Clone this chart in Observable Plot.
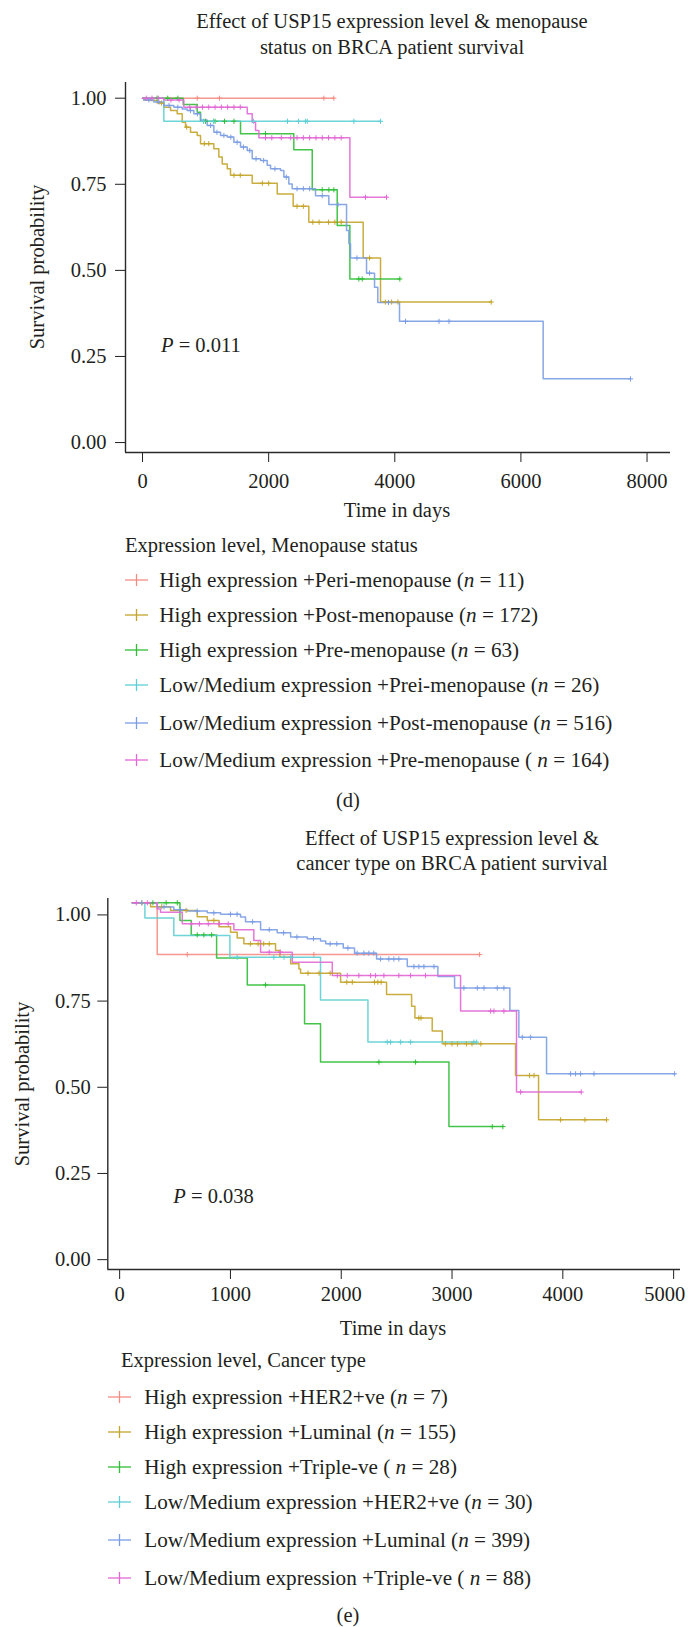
<!DOCTYPE html>
<html>
<head>
<meta charset="utf-8">
<script src="https://cdn.jsdelivr.net/npm/d3@7"></script>
<script src="https://cdn.jsdelivr.net/npm/@observablehq/plot@0.6"></script>
<style>
  html, body { margin: 0; padding: 0; background: #fff; overflow: hidden; }
  #root { position: relative; width: 688px; height: 1627px; background: #fff; color: #231f20;
          font-family: 'Liberation Serif', 'Times New Roman', serif; }
  #root div.t { position: absolute; white-space: nowrap; font-size: 20.5px; line-height: 26px; }
  #root div.t.leg { font-size: 21.2px; }
</style>
</head>
<body>
<div id="root"></div>
<script>
// ---------------- Panel (d): menopause status ----------------
const dNames = [
  "High expression +Peri-menopause (<i>n</i> = 11)",
  "High expression +Post-menopause (<i>n</i> = 172)",
  "High expression +Pre-menopause (<i>n</i> = 63)",
  "Low/Medium expression +Prei-menopause (<i>n</i> = 26)",
  "Low/Medium expression +Post-menopause (<i>n</i> = 516)",
  "Low/Medium expression +Pre-menopause ( <i>n</i> = 164)"
];
const dHighPeriT = [0, 3033];
const dHighPeriS = [1, 1];
const dHighPeriC = [867, 1221, 2875, 3033];

const dHighPostT = [0, 21, 127, 233, 338, 444, 550, 629, 682, 761, 867, 920, 1131, 1210, 1264, 1343, 1395, 1739, 2136, 2389, 2637, 3499, 3774, 5529];
const dHighPostS = [1, 0.995, 0.993, 0.986, 0.974, 0.964, 0.955, 0.930, 0.916, 0.901, 0.892, 0.868, 0.853, 0.829, 0.809, 0.795, 0.776, 0.753, 0.722, 0.686, 0.640, 0.536, 0.408, 0.408];
const dHighPostC = [300, 700, 980, 1050, 1450, 1550, 1900, 2000, 2450, 2550, 2700, 2800, 2950, 3050, 3150, 3600, 3850, 3950, 4050, 5529];

const dHighPreT = [0, 645, 867, 920, 1554, 2399, 2691, 3087, 3288, 4080];
const dHighPreS = [1, 0.982, 0.959, 0.933, 0.897, 0.850, 0.734, 0.630, 0.475, 0.475];
const dHighPreC = [230, 400, 560, 1000, 1150, 1300, 1450, 1950, 2849, 2955, 3034, 3430, 3484, 4080];

const dLowPeriT = [0, 338, 3774];
const dLowPeriS = [1, 0.933, 0.933];
const dLowPeriC = [967, 1126, 1760, 2299, 2474, 2585, 2612, 3351, 3774];

const dLowPostT = [0, 21, 180, 338, 497, 629, 708, 814, 920, 1025, 1131, 1237, 1343, 1448, 1554, 1660, 1739, 1871, 1977, 2030, 2188, 2241, 2320, 2373, 2743, 2954, 3235, 3272, 3298, 3552, 3679, 3731, 4075, 6353, 7738];
const dLowPostS = [1, 0.995, 0.989, 0.979, 0.974, 0.969, 0.964, 0.955, 0.937, 0.921, 0.901, 0.892, 0.887, 0.872, 0.858, 0.848, 0.824, 0.819, 0.805, 0.795, 0.790, 0.771, 0.751, 0.737, 0.717, 0.691, 0.616, 0.577, 0.536, 0.492, 0.451, 0.407, 0.352, 0.185, 0.185];
const dLowPostC = [100, 260, 420, 560, 760, 870, 1080, 1180, 1290, 1400, 1500, 1600, 1700, 1800, 1920, 2100, 2280, 2450, 2550, 2650, 2850, 3100, 3400, 3600, 3900, 4170, 4701, 4860, 7738];

const dLowPreT = [0, 338, 655, 1660, 1739, 1792, 1845, 3288, 3869];
const dLowPreS = [1, 0.995, 0.974, 0.955, 0.930, 0.906, 0.885, 0.7125, 0.7125];
const dLowPreC = [60, 150, 250, 450, 580, 750, 850, 950, 1050, 1150, 1250, 1350, 1450, 1550, 1950, 2050, 2200, 2350, 2450, 2550, 2650, 2750, 2850, 2950, 3050, 3150, 3536, 3869];

// ---------------- Panel (e): cancer type ----------------
const eNames = [
  "High expression +HER2+ve (<i>n</i> = 7)",
  "High expression +Luminal (<i>n</i> = 155)",
  "High expression +Triple-ve ( <i>n</i> = 28)",
  "Low/Medium expression +HER2+ve (<i>n</i> = 30)",
  "Low/Medium expression +Luminal (<i>n</i> = 399)",
  "Low/Medium expression +Triple-ve ( <i>n</i> = 88)"
];
const eHighHerT = [114, 339, 3249];
const eHighHerS = [1.035, 0.885, 0.885];
const eHighHerC = [610, 1753, 3249];

const eHighLumT = [114, 279, 459, 700, 791, 896, 1001, 1061, 1121, 1407, 1446, 1543, 1618, 1633, 1994, 2409, 2635, 2665, 2821, 2912, 3573, 3781, 4395];
const eHighLumS = [1.035, 1.024, 1.013, 0.995, 0.984, 0.966, 0.950, 0.933, 0.916, 0.897, 0.877, 0.858, 0.843, 0.831, 0.805, 0.769, 0.735, 0.701, 0.663, 0.626, 0.534, 0.4055, 0.4055];
const eHighLumC = [200, 380, 600, 850, 1180, 1250, 1300, 1350, 1700, 1800, 1900, 2050, 2100, 2300, 2330, 2360, 2700, 2720, 2940, 3000, 3050, 3130, 3180, 3260, 3700, 3740, 3980, 4200, 4395];

const eHighTriT = [114, 544, 646, 875, 1152, 1669, 1813, 2972, 3459];
const eHighTriS = [1.035, 0.984, 0.942, 0.875, 0.797, 0.684, 0.573, 0.386, 0.386];
const eHighTriC = [300, 420, 520, 700, 760, 830, 1317, 2340, 2671, 3363, 3459];

const eLowHerT = [114, 228, 489, 995, 1813, 2241, 3222];
const eLowHerS = [1.035, 0.991, 0.940, 0.877, 0.7535, 0.631, 0.631];
const eLowHerC = [1061, 1392, 1483, 1543, 2415, 2445, 2536, 2626, 3197, 3222];

const eLowLumT = [114, 339, 489, 610, 791, 911, 1091, 1136, 1272, 1422, 1543, 1693, 1813, 1860, 2018, 2120, 2319, 2596, 2872, 3023, 3522, 3603, 3853, 5009];
const eLowLumS = [1.035, 1.023, 1.015, 1.011, 1.006, 1.002, 0.994, 0.980, 0.957, 0.948, 0.936, 0.931, 0.924, 0.916, 0.904, 0.889, 0.872, 0.850, 0.821, 0.788, 0.723, 0.645, 0.539, 0.539];
const eLowLumC = [200, 400, 550, 700, 850, 1000, 1060, 1200, 1350, 1480, 1600, 1750, 1900, 1960, 2060, 2143, 2204, 2249, 2294, 2355, 2430, 2475, 2520, 2656, 2701, 2746, 2837, 3107, 3228, 3288, 3408, 3468, 3634, 3709, 4070, 4115, 4160, 4281, 5009];

const eLowTriT = [114, 339, 369, 565, 1031, 1211, 1272, 1558, 1919, 3077, 3582, 4166];
const eLowTriS = [1.035, 1.017, 1.008, 0.974, 0.957, 0.926, 0.892, 0.863, 0.824, 0.721, 0.486, 0.486];
const eLowTriC = [150, 250, 650, 720, 800, 900, 980, 1350, 1450, 1964, 2054, 2159, 2265, 2310, 2385, 2520, 2626, 2761, 3348, 3378, 3468, 3619, 4166];

// ticks
const dXTicks = [0, 2000, 4000, 6000, 8000];
const eXTicks = [0, 1000, 2000, 3000, 4000, 5000];
const yTicks = [0, 0.25, 0.5, 0.75, 1];

// styles
const palette = ["#F58C84", "#C4A42A", "#2FBE35", "#5DCFD4", "#7B9DE4", "#E268D5"];

// ---------------- helpers ----------------
function stepAt(t, T, S) {
  let v = S[0];
  for (let i = 0; i < T.length; i++) if (T[i] <= t) v = S[i];
  return v;
}
function buildTables(names, series) {
  const lines = [], cens = [];
  series.forEach(([T, S, C], k) => {
    T.forEach((t, i) => lines.push({series: names[k], t, s: S[i]}));
    C.forEach(t => cens.push({series: names[k], t, s: stepAt(t, T, S)}));
  });
  return {lines, cens};
}
const root = document.getElementById("root");
function txt(html, x, y, anchor, extra, cls) {
  const el = document.createElement("div");
  el.className = "t" + (cls ? " " + cls : "");
  el.innerHTML = html;
  const tx = anchor === "start" ? "0" : anchor === "end" ? "-100%" : "-50%";
  el.style.left = x + "px";
  el.style.top = y + "px";
  el.style.transform = `translate(${tx},-50%)` + (extra || "");
  root.append(el);
  return el;
}
function cross(color, x, y) {
  const ns = "http://www.w3.org/2000/svg";
  const s = document.createElementNS(ns, "svg");
  s.setAttribute("width", 24); s.setAttribute("height", 14);
  s.style.cssText = `position:absolute;left:${x}px;top:${y - 7}px;overflow:visible`;
  s.innerHTML = `<line x1="0" x2="23" y1="7" y2="7" stroke="${color}" stroke-width="1.3"/>` +
                `<line x1="11.5" x2="11.5" y1="1" y2="13" stroke="${color}" stroke-width="1.3"/>`;
  root.append(s);
}
function kmPlot(cfg) {
  const {lines, cens} = buildTables(cfg.names, cfg.series);
  const svg = Plot.plot({
    width: 688, height: cfg.height,
    marginLeft: cfg.ml, marginRight: cfg.mr, marginTop: cfg.mt, marginBottom: cfg.mb,
    style: {fontFamily: "'Liberation Serif', 'Times New Roman', serif", fontSize: "20.5px", color: "#231f20", background: "transparent", overflow: "visible"},
    x: {domain: cfg.xDomain, ticks: cfg.xTicks, tickFormat: d3.format("d"), tickSize: 10, tickPadding: cfg.xPad, label: null},
    y: {domain: cfg.yDomain, ticks: yTicks, tickFormat: d3.format(".2f"), tickSize: 10, tickPadding: cfg.yPad, label: null},
    color: {domain: cfg.names, range: palette},
    marks: [
      Plot.ruleX([cfg.xDomain[0]], {stroke: "#2a2a2a", strokeWidth: 1.4}),
      Plot.ruleY([cfg.yDomain[0]], {stroke: "#2a2a2a", strokeWidth: 1.4}),
      Plot.line(lines, {x: "t", y: "s", z: "series", stroke: "series", curve: "step-after", strokeWidth: 1.5, strokeOpacity: 0.9}),
      Plot.dot(cens, {x: "t", y: "s", stroke: "series", symbol: "plus", r: 1.8, strokeWidth: 1})
    ]
  });
  svg.style.position = "absolute";
  svg.style.left = "0px";
  svg.style.top = cfg.top + "px";
  root.append(svg);
  return svg;
}

// ---------------- (d) ----------------
txt("Effect of USP15 expression level &amp; menopause", 392, 21);
txt("status on BRCA patient survival", 392, 47);
kmPlot({
  names: dNames,
  series: [[dHighPeriT, dHighPeriS, dHighPeriC], [dHighPostT, dHighPostS, dHighPostC], [dHighPreT, dHighPreS, dHighPreC],
           [dLowPeriT, dLowPeriS, dLowPeriC], [dLowPostT, dLowPostS, dLowPostC], [dLowPreT, dLowPreS, dLowPreC]],
  top: 60, height: 470, ml: 125, mr: 18, mt: 22, mb: 78,
  xDomain: [-270, 8372], yDomain: [-0.0289, 1.0456], xTicks: dXTicks, xPad: 11, yPad: 9
});
txt("Survival probability", 36.7, 267, "middle", " rotate(-90deg)");
txt("<i>P</i> = 0.011", 161, 345, "start");
txt("Time in days", 397, 510);
txt("Expression level, Menopause status", 125, 545, "start");
[580, 615, 650, 685, 723, 760].forEach((y, i) => {
  cross(palette[i], 125, y);
  txt(dNames[i], 159.3, y, "start", "", "leg");
});
txt("(d)", 348, 800);

// ---------------- (e) ----------------
txt("Effect of USP15 expression level &amp;", 452, 838);
txt("cancer type on BRCA patient survival", 452, 863);
const eSvg = kmPlot({
  names: eNames,
  series: [[eHighHerT, eHighHerS, eHighHerC], [eHighLumT, eHighLumS, eHighLumC], [eHighTriT, eHighTriS, eHighTriC],
           [eLowHerT, eLowHerS, eLowHerC], [eLowLumT, eLowLumS, eLowLumC], [eLowTriT, eLowTriS, eLowTriC]],
  top: 880, height: 430, ml: 107.3, mr: 8, mt: 18, mb: 41,
  xDomain: [-107, 5062], yDomain: [-0.0286, 1.0476], xTicks: eXTicks, xPad: 7, yPad: 7
});
// keep the last x tick label inside the page (it sits at the right edge)
eSvg.querySelectorAll("text").forEach(t => {
  if (t.textContent.trim() === "5000") {
    const tr = t.getAttribute("transform") || "";
    t.setAttribute("transform", tr + " translate(-9,0)");
  }
});
txt("Survival probability", 21.7, 1084, "middle", " rotate(-90deg)");
txt("<i>P</i> = 0.038", 173.3, 1196, "start");
txt("Time in days", 393, 1328);
txt("Expression level, Cancer type", 121, 1360, "start");
[1397, 1432, 1467, 1502, 1540, 1578].forEach((y, i) => {
  cross(palette[i], 107.7, y);
  txt(eNames[i], 144.3, y, "start", "", "leg");
});
txt("(e)", 348, 1615);
</script>
</body>
</html>
